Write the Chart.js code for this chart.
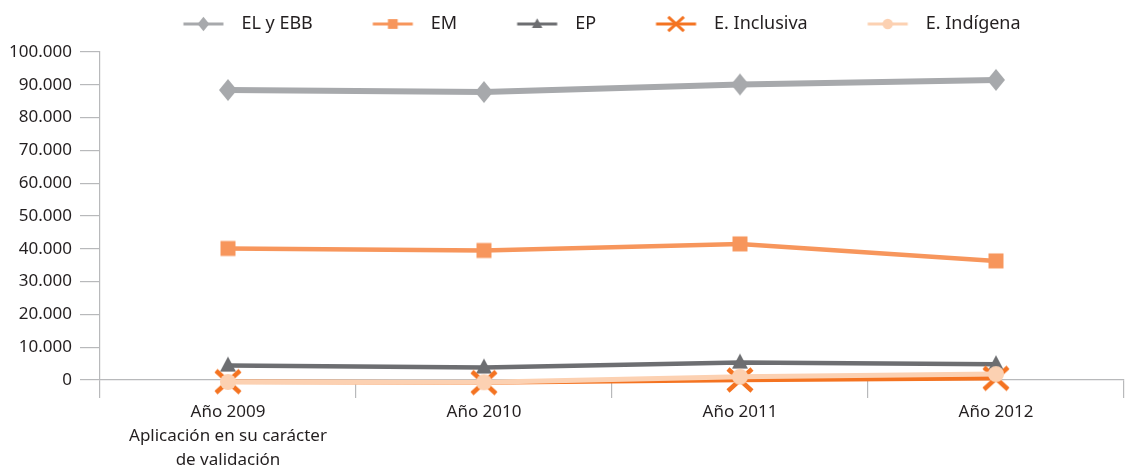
<!DOCTYPE html>
<html>
<head>
<meta charset="utf-8">
<script src="https://cdn.jsdelivr.net/npm/chart.js@4/dist/chart.umd.min.js"></script>
<style>
    body { margin: 0; background: #fff; overflow: hidden; }
</style>
</head>
<body>
<canvas id="grafico" width="1140" height="467"></canvas>
<script>
const categorias = [["Año 2009", "Aplicación en su carácter", "de validación"], "Año 2010", "Año 2011", "Año 2012"];
const nombresSeries = ["EL y EBB", "EM", "EP", "E. Inclusiva", "E. Indígena"];
const valoresElEbb = [88400, 87800, 90100, 91500];
const valoresEm = [40100, 39500, 41500, 36300];
const valoresEp = [4400, 3800, 5300, 4800];
const valoresInclusiva = [-500, -800, 0, 500];
const valoresIndigena = [-600, -700, 1000, 1800];
const marcasY = [0, 10000, 20000, 30000, 40000, 50000, 60000, 70000, 80000, 90000, 100000];

const colores = ["#a7a9ac", "#f7965c", "#6d6e71", "#f47321", "#fcd1b2"];
const tiposMarca = ["rombo", "cuadro", "triangulo", "cruz", "circulo"];
const grosores = [6, 4.5, 4.5, 4.5, 5];
const textoColor = "#231f20";
const ejeColor = "#b8b9bb";

function dibujarMarcador(ctx, tipo, cx, cy, k, color) {
    ctx.fillStyle = color;
    ctx.strokeStyle = color;
    ctx.beginPath();
    if (tipo === "rombo") {
        ctx.moveTo(cx, cy - 11 * k);
        ctx.lineTo(cx + 9 * k, cy);
        ctx.lineTo(cx, cy + 11 * k);
        ctx.lineTo(cx - 9 * k, cy);
        ctx.closePath();
        ctx.fill();
    } else if (tipo === "cuadro") {
        ctx.rect(cx - 7.5 * k, cy - 7.5 * k, 15 * k, 15 * k);
        ctx.fill();
    } else if (tipo === "triangulo") {
        ctx.moveTo(cx, cy - 9 * k);
        ctx.lineTo(cx + 8 * k, cy + 6 * k);
        ctx.lineTo(cx - 8 * k, cy + 6 * k);
        ctx.closePath();
        ctx.fill();
    } else if (tipo === "cruz") {
        ctx.lineWidth = 4.5 * k;
        ctx.moveTo(cx - 12 * k, cy - 11 * k);
        ctx.lineTo(cx + 12 * k, cy + 11 * k);
        ctx.moveTo(cx + 12 * k, cy - 11 * k);
        ctx.lineTo(cx - 12 * k, cy + 11 * k);
        ctx.stroke();
    } else {
        ctx.arc(cx, cy, 8 * k, 0, Math.PI * 2);
        ctx.fill();
    }
}

function nuevoLienzo(w, h) {
    const c = document.createElement("canvas");
    c.width = w;
    c.height = h;
    return c;
}

// marcadores del grafico
const imgPuntos = tiposMarca.map((t, i) => {
    const c = nuevoLienzo(32, 32);
    dibujarMarcador(c.getContext("2d"), t, 16, 16, 1, colores[i]);
    return c;
});

// marcadores de la leyenda: linea + marca, desplazados dentro de la caja
const imgLeyenda = tiposMarca.map((t, i) => {
    const c = nuevoLienzo(100, 22);
    const ctx = c.getContext("2d");
    ctx.strokeStyle = colores[i];
    ctx.lineWidth = 3;
    ctx.beginPath();
    ctx.moveTo(55.5, 11);
    ctx.lineTo(95.5, 11);
    ctx.stroke();
    dibujarMarcador(ctx, t, 75.5, 11, 0.65, colores[i]);
    return c;
});

const valores = [valoresElEbb, valoresEm, valoresEp, valoresInclusiva, valoresIndigena];

const datasets = nombresSeries.map((nombre, i) => ({
    label: nombre,
    data: valores[i],
    borderColor: colores[i],
    backgroundColor: colores[i],
    borderWidth: grosores[i],
    pointStyle: imgPuntos[i],
    pointRadius: 10,
    tension: 0,
    clip: false,
    order: 5 - i
}));

const fuente = { family: "'Noto Sans', sans-serif", size: 17 };

function formatoMiles(v) {
    return String(v).replace(/\B(?=(\d{3})+(?!\d))/g, ".");
}

new Chart(document.getElementById("grafico"), {
    type: "line",
    data: { labels: categorias, datasets: datasets },
    options: {
        responsive: false,
        animation: false,
        layout: { padding: { left: 6, right: 2, top: 15, bottom: 0 } },
        plugins: {
            tooltip: { enabled: false },
            // titulo vacio: solo deja aire entre la leyenda y el grafico
            title: { display: true, text: "", padding: 0, font: { size: 9, lineHeight: 1 } },
            legend: {
                position: "top",
                weight: 3000,
                labels: {
                    usePointStyle: true,
                    pointStyleWidth: 109,
                    padding: 0,
                    color: textoColor,
                    font: { family: fuente.family, size: 18 },
                    generateLabels: (chart) => {
                        const items = Chart.defaults.plugins.legend.labels.generateLabels(chart);
                        items.sort((a, b) => a.datasetIndex - b.datasetIndex);
                        items.forEach(it => { it.pointStyle = imgLeyenda[it.datasetIndex]; });
                        return items;
                    }
                }
            }
        },
        scales: {
            x: {
                offset: true,
                grid: { offset: true, drawOnChartArea: false, tickLength: 18, color: ejeColor, lineWidth: 1.2 },
                border: { color: ejeColor, width: 1.2 },
                ticks: { color: textoColor, font: { ...fuente, lineHeight: 1.42 }, padding: 2, maxRotation: 0 },
                afterFit: (s) => { s.height = 87; }
            },
            y: {
                min: 0,
                max: 100000,
                afterBuildTicks: (s) => { s.ticks = marcasY.map(v => ({ value: v })); },
                grid: { drawOnChartArea: false, tickLength: 20, color: ejeColor, lineWidth: 1.2 },
                border: { color: ejeColor, width: 1.2 },
                ticks: { color: textoColor, font: fuente, padding: 8, callback: (v) => formatoMiles(v) },
                afterFit: (s) => { s.width = 94; }
            }
        }
    }
});
</script>
</body>
</html>
